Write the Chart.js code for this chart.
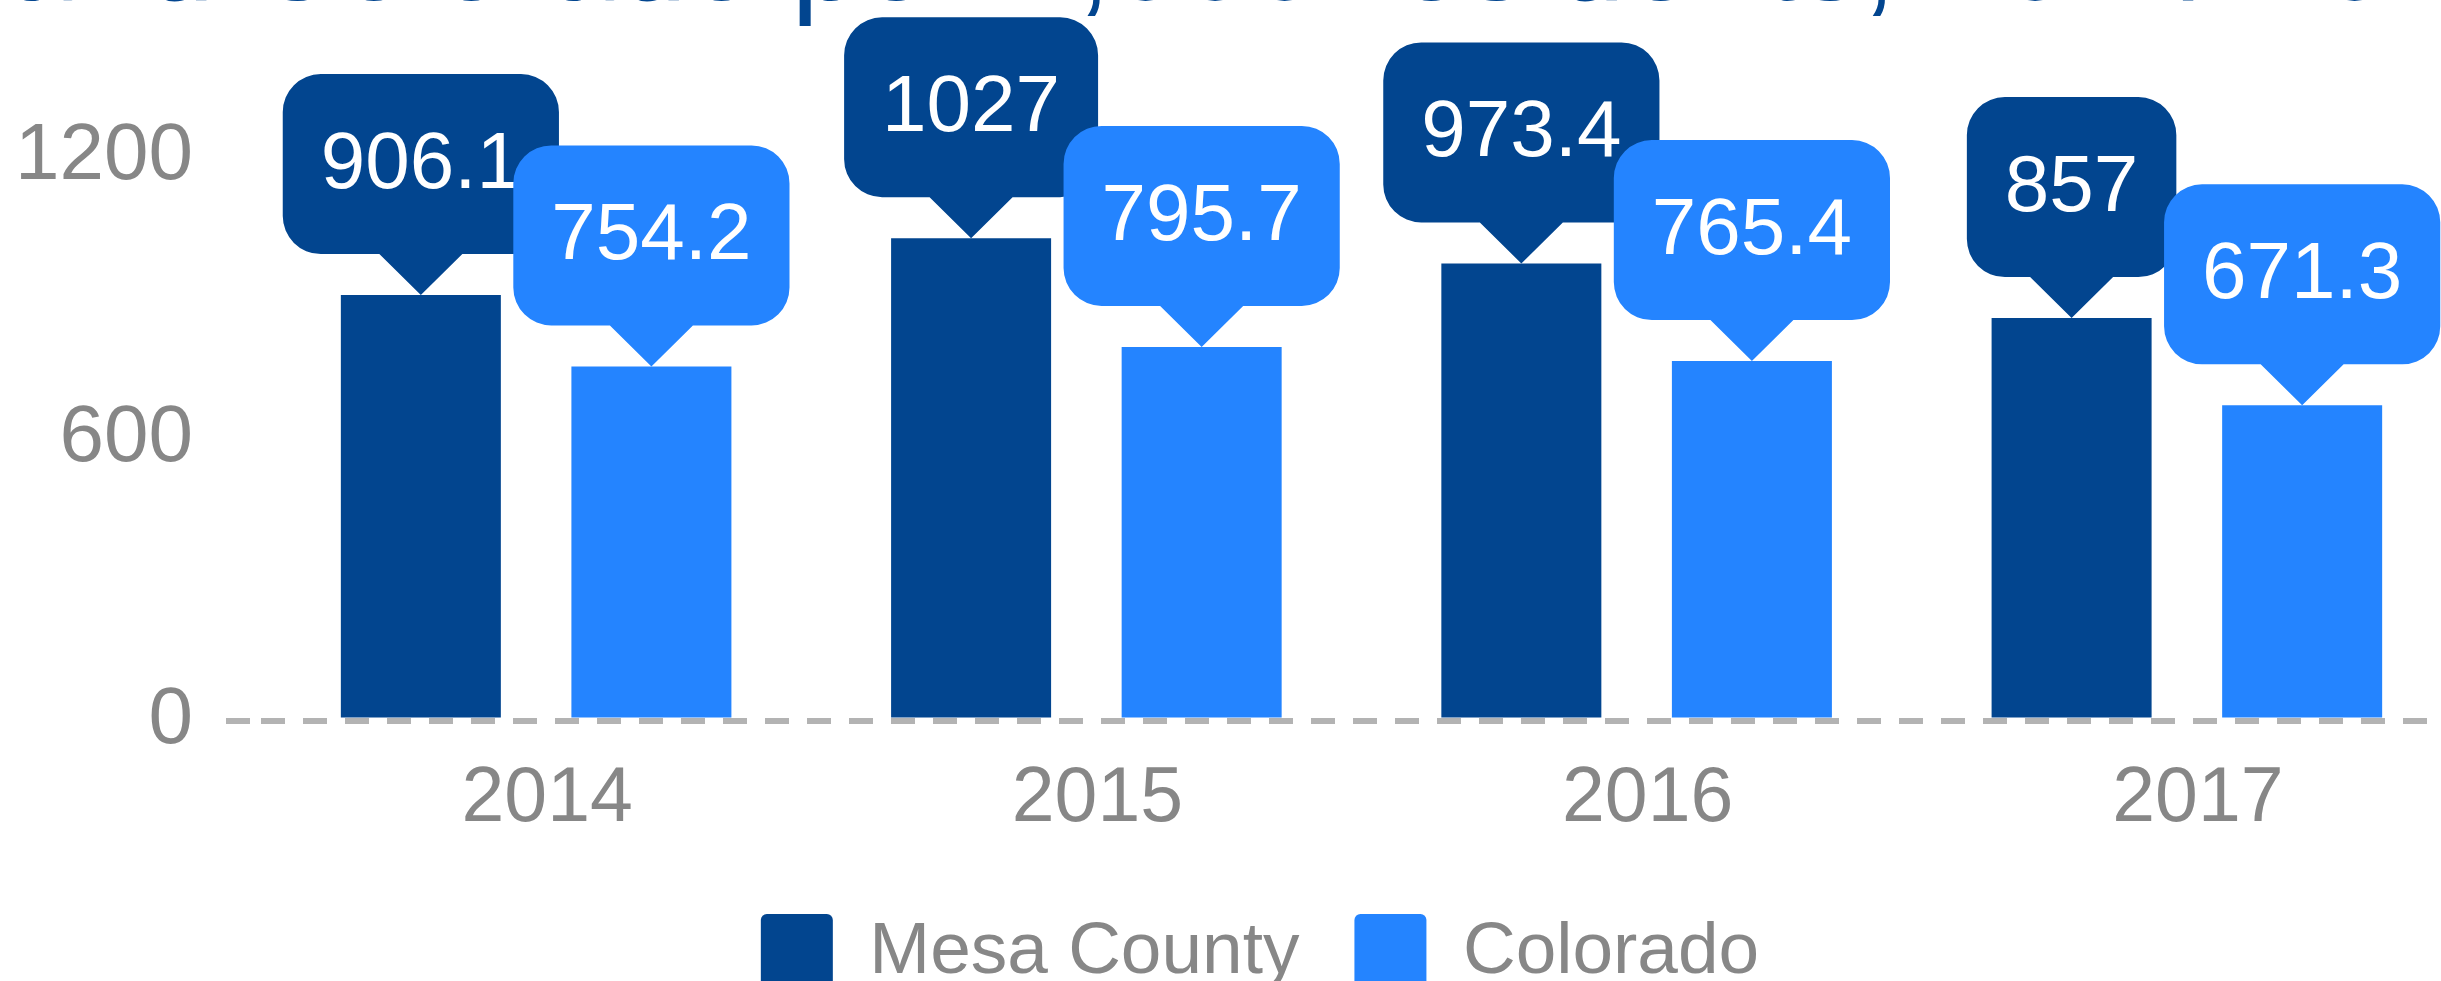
<!DOCTYPE html>
<html>
<head>
<meta charset="utf-8">
<script src="https://cdn.jsdelivr.net/npm/chart.js@4.4.1/dist/chart.umd.min.js"></script>
<style>
  html, body { margin: 0; padding: 0; background: #fff; overflow: hidden; width: 2441px; height: 981px; }
  #chart { position: absolute; left: 0; top: 0; }
</style>
</head>
<body>
<canvas id="chart" width="2520" height="1060"></canvas>
<script>
const years = ['2014', '2015', '2016', '2017'];
const mesaCounty = [906.1, 1027, 973.4, 857];
const colorado = [754.2, 795.7, 765.4, 671.3];
const yTicks = [0, 600, 1200];
const titleText = 'and Colorado per 1,000 residents, 2014-2017';

const FONT = '"Liberation Sans", Arial, sans-serif';
const DARK = '#02458f';
const LIGHT = '#2484ff';
const GREY = '#878787';

// title sits mostly above the visible area, only its lower part shows
const cutTitle = {
  id: 'cutTitle',
  afterDraw(chart) {
    const { ctx } = chart;
    ctx.save();
    ctx.font = `125px ${FONT}`;
    ctx.fillStyle = DARK;
    ctx.textAlign = 'left';
    ctx.textBaseline = 'alphabetic';
    ctx.fillText(titleText, 6, 0);
    ctx.restore();
  }
};

// speech-bubble value labels above each bar
const callouts = {
  id: 'callouts',
  afterDatasetsDraw(chart) {
    const { ctx } = chart;
    ctx.save();
    ctx.font = `80px ${FONT}`;
    chart.data.datasets.forEach((ds, i) => {
      chart.getDatasetMeta(i).data.forEach((bar, j) => {
        const label = String(ds.data[j]);
        const w = ctx.measureText(label).width + 76;
        const h = 180, r = 38, tipH = 41, half = 41.5;
        const x = bar.x, tip = bar.y;
        const bottom = tip - tipH, top = bottom - h;
        const left = x - w / 2, right = x + w / 2;
        ctx.beginPath();
        ctx.moveTo(left + r, top);
        ctx.lineTo(right - r, top);
        ctx.arcTo(right, top, right, top + r, r);
        ctx.lineTo(right, bottom - r);
        ctx.arcTo(right, bottom, right - r, bottom, r);
        ctx.lineTo(x + half, bottom);
        ctx.lineTo(x, tip);
        ctx.lineTo(x - half, bottom);
        ctx.lineTo(left + r, bottom);
        ctx.arcTo(left, bottom, left, bottom - r, r);
        ctx.lineTo(left, top + r);
        ctx.arcTo(left, top, left + r, top, r);
        ctx.closePath();
        ctx.fillStyle = ds.backgroundColor;
        ctx.fill();
        ctx.fillStyle = '#ffffff';
        ctx.textAlign = 'center';
        ctx.textBaseline = 'middle';
        ctx.fillText(label, x, (top + bottom) / 2 + 2);
      });
    });
    ctx.restore();
  }
};

new Chart(document.getElementById('chart'), {
  type: 'bar',
  data: {
    labels: years,
    datasets: [
      { label: 'Mesa County', data: mesaCounty, backgroundColor: DARK },
      { label: 'Colorado', data: colorado, backgroundColor: LIGHT }
    ]
  },
  options: {
    responsive: false,
    animation: false,
    devicePixelRatio: 1,
    categoryPercentage: 0.838,
    barPercentage: 0.694,
    layout: { padding: { top: 157, left: 0, right: 0, bottom: 58 } },
    plugins: {
      title: { display: false },
      tooltip: { enabled: false },
      legend: {
        position: 'bottom',
        labels: {
          color: GREY,
          font: { family: FONT, size: 73 },
          boxWidth: 72,
          boxHeight: 78,
          padding: 55,
          useBorderRadius: true,
          borderRadius: 6
        }
      }
    },
    scales: {
      x: {
        grid: { display: false },
        border: { display: false },
        ticks: { color: GREY, font: { family: FONT, size: 77 }, padding: 25, labelOffset: 11 },
        afterFit: (scale) => { scale.height -= 12; }
      },
      y: {
        min: 0,
        max: 1200,
        afterBuildTicks: (scale) => { scale.ticks = yTicks.map((v) => ({ value: v })); },
        afterFit: (scale) => { scale.width = 261; },
        border: { display: false, dash: [24, 18] },
        grid: {
          color: (c) => (c.tick && c.tick.value === 0 ? '#b3b3b3' : 'rgba(0,0,0,0)'),
          lineWidth: 6,
          tickLength: 35,
          tickBorderDash: [24, 18]
        },
        ticks: {
          color: GREY,
          font: { family: FONT, size: 80 },
          padding: 33,
          callback: (value) => String(value)
        }
      },
      // empty strip on the right so the plot stops where the original crop does
      yRight: {
        type: 'linear',
        axis: 'y',
        position: 'right',
        grid: { display: false },
        border: { display: false },
        ticks: { display: false },
        afterFit: (scale) => { scale.width = 58; }
      }
    }
  },
  plugins: [callouts, cutTitle]
});
</script>
</body>
</html>
